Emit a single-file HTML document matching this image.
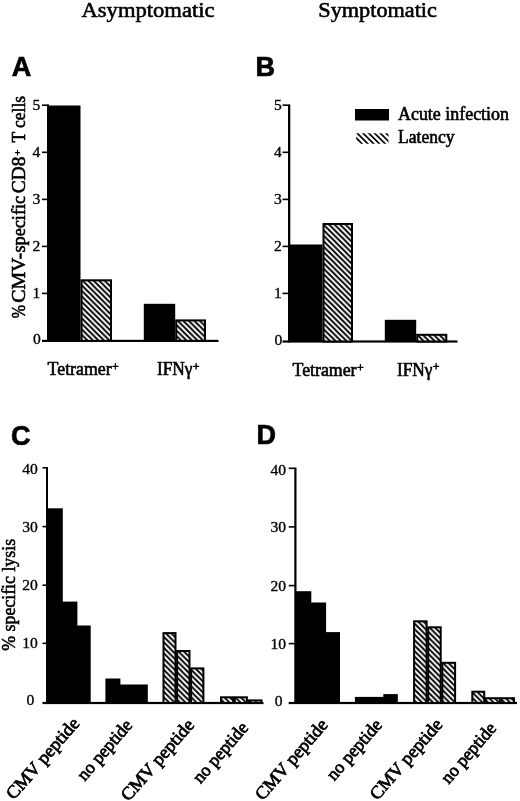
<!DOCTYPE html>
<html><head><meta charset="utf-8"><title>Figure</title>
<style>
html,body{margin:0;padding:0;background:#fff;}
svg{display:block;}
text{font-family:"Liberation Serif",serif;fill:#000;stroke:#000;stroke-width:0.6px;stroke-linejoin:round;}
.t{font-size:22px;}
.l{font-size:18px;}
.n{font-size:15.6px;text-anchor:middle;stroke-width:0.35px;}
.p{font-family:"Liberation Sans",sans-serif;font-weight:bold;font-size:27px;stroke-width:0.7px;}
</style></head><body>
<svg width="520" height="801" viewBox="0 0 520 801">
<defs>
<pattern id="h" width="5.5" height="5.5" patternUnits="userSpaceOnUse">
<rect width="5.5" height="5.5" fill="#fff"/>
<path d="M-1.375,-1.375 L6.875,6.875 M-1.375,4.125 L1.375,6.875 M4.125,-1.375 L6.875,1.375" stroke="#000" stroke-width="1.9" fill="none"/>
</pattern>
</defs>
<rect width="520" height="801" fill="#fff"/>

<text class="t" x="81.5" y="17" textLength="133" lengthAdjust="spacingAndGlyphs">Asymptomatic</text>
<text class="t" x="318.3" y="17" textLength="118.6" lengthAdjust="spacingAndGlyphs">Symptomatic</text>
<text class="p" x="11.8" y="75.9">A</text>
<text class="p" x="255.6" y="75.9">B</text>
<text class="p" x="10.9" y="445">C</text>
<text class="p" x="256.4" y="444.4">D</text>
<rect x="47" y="104.40" width="2.00" height="237.50" fill="#000"/>
<rect x="42" y="104.40" width="5.50" height="1.6" fill="#000"/>
<rect x="42" y="151.50" width="5.50" height="1.6" fill="#000"/>
<rect x="42" y="198.60" width="5.50" height="1.6" fill="#000"/>
<rect x="42" y="245.60" width="5.50" height="1.6" fill="#000"/>
<rect x="42" y="292.60" width="5.50" height="1.6" fill="#000"/>
<rect x="42" y="339.80" width="176.50" height="2.2" fill="#000"/>
<text class="n" x="36.5" y="110.10">5</text>
<text class="n" x="36.5" y="157.20">4</text>
<text class="n" x="36.5" y="204.30">3</text>
<text class="n" x="36.5" y="251.30">2</text>
<text class="n" x="36.5" y="298.30">1</text>
<text class="n" x="37.0" y="344.20">0</text>
<rect x="47.50" y="105.50" width="33.00" height="235.40" fill="#000"/>
<rect x="81.50" y="280.30" width="29.50" height="60.60" fill="url(#h)" stroke="#000" stroke-width="2.0"/>
<rect x="143.80" y="303.80" width="31.40" height="37.10" fill="#000"/>
<rect x="176.20" y="320.40" width="28.80" height="20.50" fill="url(#h)" stroke="#000" stroke-width="2.0"/>
<rect x="288" y="104.40" width="2.30" height="238.10" fill="#000"/>
<rect x="282.5" y="104.40" width="6.00" height="1.6" fill="#000"/>
<rect x="282.5" y="151.50" width="6.00" height="1.6" fill="#000"/>
<rect x="282.5" y="198.60" width="6.00" height="1.6" fill="#000"/>
<rect x="282.5" y="245.60" width="6.00" height="1.6" fill="#000"/>
<rect x="282.5" y="292.60" width="6.00" height="1.6" fill="#000"/>
<rect x="282.5" y="340.40" width="175.00" height="2.2" fill="#000"/>
<text class="n" x="277.8" y="110.10">5</text>
<text class="n" x="277.8" y="157.20">4</text>
<text class="n" x="277.8" y="204.30">3</text>
<text class="n" x="277.8" y="251.30">2</text>
<text class="n" x="277.8" y="298.30">1</text>
<text class="n" x="278.3" y="344.50">0</text>
<rect x="288.75" y="244.50" width="33.75" height="97.00" fill="#000"/>
<rect x="323.50" y="224.00" width="28.50" height="117.50" fill="url(#h)" stroke="#000" stroke-width="2.0"/>
<rect x="384.80" y="319.80" width="31.40" height="21.70" fill="#000"/>
<rect x="417.20" y="334.80" width="29.10" height="6.70" fill="url(#h)" stroke="#000" stroke-width="2.0"/>
<rect x="46" y="467.00" width="2.00" height="237.00" fill="#000"/>
<rect x="42.5" y="467.00" width="4.00" height="1.6" fill="#000"/>
<rect x="42.5" y="525.80" width="4.00" height="1.6" fill="#000"/>
<rect x="42.5" y="584.40" width="4.00" height="1.6" fill="#000"/>
<rect x="42.5" y="642.50" width="4.00" height="1.6" fill="#000"/>
<rect x="42.5" y="701.90" width="221.00" height="2.2" fill="#000"/>
<text class="n" x="30" y="474.30">40</text>
<text class="n" x="30" y="531.50">30</text>
<text class="n" x="30" y="590.10">20</text>
<text class="n" x="30" y="648.20">10</text>
<text class="n" x="30.5" y="705.40">0</text>
<rect x="47.00" y="508.30" width="15.80" height="194.70" fill="#000"/>
<rect x="61.80" y="601.60" width="15.60" height="101.40" fill="#000"/>
<rect x="76.40" y="625.50" width="14.30" height="77.50" fill="#000"/>
<rect x="105.40" y="678.50" width="15.00" height="24.50" fill="#000"/>
<rect x="119.40" y="684.50" width="28.40" height="18.50" fill="#000"/>
<rect x="163.50" y="633.10" width="12.00" height="69.90" fill="url(#h)" stroke="#000" stroke-width="2.0"/>
<rect x="177.10" y="651.00" width="12.40" height="52.00" fill="url(#h)" stroke="#000" stroke-width="2.0"/>
<rect x="191.10" y="668.40" width="12.30" height="34.60" fill="url(#h)" stroke="#000" stroke-width="2.0"/>
<rect x="221.00" y="697.30" width="12.20" height="5.70" fill="url(#h)" stroke="#000" stroke-width="2.0"/>
<rect x="234.80" y="697.30" width="12.10" height="5.70" fill="url(#h)" stroke="#000" stroke-width="2.0"/>
<rect x="248.50" y="700.40" width="13.00" height="2.60" fill="url(#h)" stroke="#000" stroke-width="2.0"/>
<rect x="294.3" y="467.50" width="2.20" height="236.50" fill="#000"/>
<rect x="288.7" y="467.50" width="6.10" height="1.6" fill="#000"/>
<rect x="288.7" y="526.10" width="6.10" height="1.6" fill="#000"/>
<rect x="288.7" y="584.80" width="6.10" height="1.6" fill="#000"/>
<rect x="288.7" y="642.80" width="6.10" height="1.6" fill="#000"/>
<rect x="288.7" y="701.90" width="228.30" height="2.2" fill="#000"/>
<text class="n" x="278.2" y="474.80">40</text>
<text class="n" x="278.2" y="531.80">30</text>
<text class="n" x="278.2" y="590.50">20</text>
<text class="n" x="278.2" y="648.50">10</text>
<text class="n" x="278.7" y="705.60">0</text>
<rect x="295.00" y="591.20" width="16.30" height="111.80" fill="#000"/>
<rect x="310.30" y="602.50" width="15.80" height="100.50" fill="#000"/>
<rect x="325.10" y="632.10" width="14.90" height="70.90" fill="#000"/>
<rect x="354.90" y="696.90" width="29.40" height="6.10" fill="#000"/>
<rect x="383.30" y="694.10" width="14.50" height="8.90" fill="#000"/>
<rect x="414.10" y="621.30" width="12.50" height="81.70" fill="url(#h)" stroke="#000" stroke-width="2.0"/>
<rect x="428.20" y="627.30" width="12.50" height="75.70" fill="url(#h)" stroke="#000" stroke-width="2.0"/>
<rect x="442.30" y="662.80" width="12.80" height="40.20" fill="url(#h)" stroke="#000" stroke-width="2.0"/>
<rect x="472.30" y="691.70" width="11.90" height="11.30" fill="url(#h)" stroke="#000" stroke-width="2.0"/>
<rect x="485.80" y="698.20" width="14.00" height="4.80" fill="url(#h)" stroke="#000" stroke-width="2.0"/>
<rect x="501.40" y="698.20" width="12.60" height="4.80" fill="url(#h)" stroke="#000" stroke-width="2.0"/>
<rect x="355.00" y="109.00" width="34.00" height="11.50" fill="#000"/>
<clipPath id="lc"><rect x="356.2" y="133.2" width="32.3" height="10.5"/></clipPath>
<path clip-path="url(#lc)" d="M350.50,132.2 l12.5,12.5 M356.27,132.2 l12.5,12.5 M362.04,132.2 l12.5,12.5 M367.81,132.2 l12.5,12.5 M373.58,132.2 l12.5,12.5 M379.35,132.2 l12.5,12.5 M385.12,132.2 l12.5,12.5 M390.89,132.2 l12.5,12.5 " stroke="#000" stroke-width="1.7" fill="none"/>
<text class="l" x="398" y="120" textLength="111" lengthAdjust="spacingAndGlyphs">Acute infection</text>
<text class="l" x="398" y="143.4" textLength="56.5" lengthAdjust="spacingAndGlyphs">Latency</text>
<text class="l" y="375.4"><tspan x="47.6" textLength="64" lengthAdjust="spacingAndGlyphs">Tetramer</tspan><tspan x="112.0" y="371.0" style="font-size:12px">+</tspan></text>
<text class="l" y="375.2"><tspan x="156.9" textLength="35.5" lengthAdjust="spacingAndGlyphs">IFNγ</tspan><tspan x="192.8" y="370.8" style="font-size:12px">+</tspan></text>
<text class="l" y="376"><tspan x="292.5" textLength="64" lengthAdjust="spacingAndGlyphs">Tetramer</tspan><tspan x="356.9" y="371.6" style="font-size:12px">+</tspan></text>
<text class="l" y="375.8"><tspan x="396.9" textLength="35.5" lengthAdjust="spacingAndGlyphs">IFNγ</tspan><tspan x="432.8" y="371.4" style="font-size:12px">+</tspan></text>
<g transform="translate(24.7,318.2) rotate(-90)"><text class="l" y="0"><tspan x="0" textLength="13.2" lengthAdjust="spacingAndGlyphs">%</tspan> <tspan x="15.4" textLength="50" lengthAdjust="spacingAndGlyphs">CMV-</tspan><tspan x="65.6" textLength="56.8" lengthAdjust="spacingAndGlyphs">specific</tspan> <tspan x="125" textLength="36.6" lengthAdjust="spacingAndGlyphs">CD8</tspan><tspan x="162.5" y="-3.8" style="font-size:11px">+</tspan> <tspan x="175.6" y="0" textLength="46.6" lengthAdjust="spacingAndGlyphs">T cells</tspan></text></g>
<g transform="translate(15.4,650.7) rotate(-90)"><text class="l" x="0" y="0" textLength="111.8" lengthAdjust="spacingAndGlyphs">% specific lysis</text></g>
<g transform="translate(13.8,800.5) rotate(-49)"><text class="l" style="stroke-width:0.75px" x="0" y="0" textLength="101.5" lengthAdjust="spacingAndGlyphs">CMV peptide</text></g>
<g transform="translate(84.7,781.7) rotate(-49)"><text class="l" style="stroke-width:0.75px" x="0" y="0" textLength="74" lengthAdjust="spacingAndGlyphs">no peptide</text></g>
<g transform="translate(128.5,802) rotate(-49)"><text class="l" style="stroke-width:0.75px" x="0" y="0" textLength="101.5" lengthAdjust="spacingAndGlyphs">CMV peptide</text></g>
<g transform="translate(200.5,784.3) rotate(-49)"><text class="l" style="stroke-width:0.75px" x="0" y="0" textLength="74" lengthAdjust="spacingAndGlyphs">no peptide</text></g>
<g transform="translate(262.8,801.2) rotate(-49)"><text class="l" style="stroke-width:0.75px" x="0" y="0" textLength="100.5" lengthAdjust="spacingAndGlyphs">CMV peptide</text></g>
<g transform="translate(334.3,781.4) rotate(-49)"><text class="l" style="stroke-width:0.75px" x="0" y="0" textLength="74" lengthAdjust="spacingAndGlyphs">no peptide</text></g>
<g transform="translate(377.5,800.9) rotate(-49)"><text class="l" style="stroke-width:0.75px" x="0" y="0" textLength="100.5" lengthAdjust="spacingAndGlyphs">CMV peptide</text></g>
<g transform="translate(448.7,784.7) rotate(-49)"><text class="l" style="stroke-width:0.75px" x="0" y="0" textLength="74" lengthAdjust="spacingAndGlyphs">no peptide</text></g>
</svg></body></html>
